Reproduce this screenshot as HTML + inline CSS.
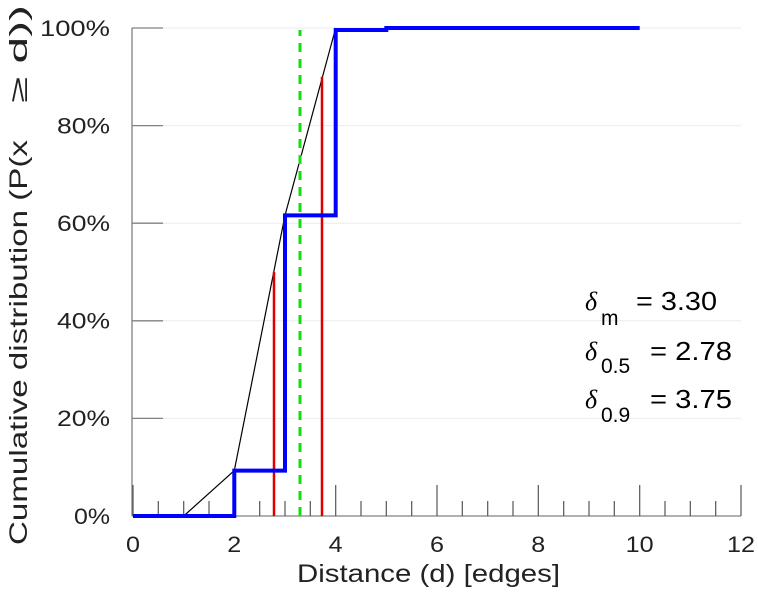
<!DOCTYPE html>
<html><head><meta charset="utf-8"><style>
html,body{margin:0;padding:0;background:#fff}
svg{display:block;font-family:"Liberation Sans","DejaVu Sans",sans-serif}
</style></head><body>
<svg width="758" height="600" viewBox="0 0 758 600" xmlns="http://www.w3.org/2000/svg">
<g stroke="#ebebeb" stroke-width="1">
<line x1="163" y1="418.4" x2="741" y2="418.4"/>
<line x1="163" y1="320.8" x2="741" y2="320.8"/>
<line x1="163" y1="223.2" x2="741" y2="223.2"/>
<line x1="163" y1="125.6" x2="741" y2="125.6"/>
<line x1="163" y1="28" x2="741" y2="28"/>
</g>
<g stroke="#808080" stroke-width="1.3" fill="none">
<line x1="132" y1="28" x2="132" y2="516"/>
<line x1="132" y1="516" x2="741" y2="516"/>
<line x1="132" y1="418.4" x2="163" y2="418.4"/>
<line x1="132" y1="320.8" x2="163" y2="320.8"/>
<line x1="132" y1="223.2" x2="163" y2="223.2"/>
<line x1="132" y1="125.6" x2="163" y2="125.6"/>
<line x1="132" y1="28" x2="163" y2="28"/>
</g>
<g stroke="#555" stroke-width="1.2">
<line x1="133" y1="485" x2="133" y2="516"/><line x1="158.3" y1="501" x2="158.3" y2="516"/><line x1="183.7" y1="501" x2="183.7" y2="516"/><line x1="209" y1="501" x2="209" y2="516"/>
<line x1="234.3" y1="485" x2="234.3" y2="516"/><line x1="259.7" y1="501" x2="259.7" y2="516"/><line x1="285" y1="501" x2="285" y2="516"/><line x1="310.3" y1="501" x2="310.3" y2="516"/>
<line x1="335.7" y1="485" x2="335.7" y2="516"/><line x1="361" y1="501" x2="361" y2="516"/><line x1="386.3" y1="501" x2="386.3" y2="516"/><line x1="411.7" y1="501" x2="411.7" y2="516"/>
<line x1="437" y1="485" x2="437" y2="516"/><line x1="462.3" y1="501" x2="462.3" y2="516"/><line x1="487.7" y1="501" x2="487.7" y2="516"/><line x1="513" y1="501" x2="513" y2="516"/>
<line x1="538.3" y1="485" x2="538.3" y2="516"/><line x1="563.7" y1="501" x2="563.7" y2="516"/><line x1="589" y1="501" x2="589" y2="516"/><line x1="614.3" y1="501" x2="614.3" y2="516"/>
<line x1="639.7" y1="485" x2="639.7" y2="516"/><line x1="665" y1="501" x2="665" y2="516"/><line x1="690.3" y1="501" x2="690.3" y2="516"/><line x1="715.7" y1="501" x2="715.7" y2="516"/>
<line x1="741" y1="485" x2="741" y2="516"/>
</g>
<polyline points="183.7,516 234.3,470.6 285,215.4 335.7,28" fill="none" stroke="#000" stroke-width="1.2"/>
<line x1="274" y1="516" x2="274" y2="272" stroke="#dd0000" stroke-width="2.5"/>
<line x1="322" y1="516" x2="322" y2="76.8" stroke="#dd0000" stroke-width="2.5"/>
<line x1="300" y1="516" x2="300" y2="30" stroke="#11dd11" stroke-width="3" stroke-dasharray="9,7"/>
<polyline points="133,516 234.3,516 234.3,470.6 285,470.6 285,215.4 335.7,215.4 335.7,30 386.3,30 386.3,28 639.7,28" fill="none" stroke="#0000ff" stroke-width="4"/>
<g font-size="22" fill="#222" text-anchor="end" lengthAdjust="spacingAndGlyphs">
<text x="110" y="524" textLength="36" lengthAdjust="spacingAndGlyphs">0%</text>
<text x="110" y="426" textLength="53" lengthAdjust="spacingAndGlyphs">20%</text>
<text x="110" y="328.5" textLength="53" lengthAdjust="spacingAndGlyphs">40%</text>
<text x="110" y="231" textLength="53" lengthAdjust="spacingAndGlyphs">60%</text>
<text x="110" y="133.5" textLength="53" lengthAdjust="spacingAndGlyphs">80%</text>
<text x="110" y="36" textLength="70" lengthAdjust="spacingAndGlyphs">100%</text>
</g>
<g font-size="22" fill="#222" text-anchor="middle">
<text x="133" y="552" textLength="14" lengthAdjust="spacingAndGlyphs">0</text>
<text x="234.3" y="552" textLength="14" lengthAdjust="spacingAndGlyphs">2</text>
<text x="335.7" y="552" textLength="14" lengthAdjust="spacingAndGlyphs">4</text>
<text x="437" y="552" textLength="14" lengthAdjust="spacingAndGlyphs">6</text>
<text x="538.3" y="552" textLength="14" lengthAdjust="spacingAndGlyphs">8</text>
<text x="639.7" y="552" textLength="28" lengthAdjust="spacingAndGlyphs">10</text>
<text x="741" y="552" textLength="28" lengthAdjust="spacingAndGlyphs">12</text>
</g>
<text x="297" y="582" font-size="25" fill="#222" textLength="263" lengthAdjust="spacingAndGlyphs">Distance (d) [edges]</text>
<text transform="translate(27,545) rotate(-90)" font-size="25" fill="#222" textLength="405" lengthAdjust="spacingAndGlyphs">Cumulative distribution (P(x</text>
<text transform="translate(27,103) rotate(-90)" font-size="25" fill="#222" textLength="98" lengthAdjust="spacingAndGlyphs">≥ d))</text>
<g font-size="26" fill="#000">
<text x="585" y="310" font-style="italic" font-family="Liberation Serif,serif">δ</text><text x="601" y="325" font-size="21">m</text><text x="636" y="310" textLength="81" lengthAdjust="spacingAndGlyphs">= 3.30</text>
<text x="585" y="360" font-style="italic" font-family="Liberation Serif,serif">δ</text><text x="601" y="373" font-size="21">0.5</text><text x="650" y="360" textLength="82" lengthAdjust="spacingAndGlyphs">= 2.78</text>
<text x="585" y="408" font-style="italic" font-family="Liberation Serif,serif">δ</text><text x="601" y="422" font-size="21">0.9</text><text x="650" y="408" textLength="82" lengthAdjust="spacingAndGlyphs">= 3.75</text>
</g>
</svg>
</body></html>
